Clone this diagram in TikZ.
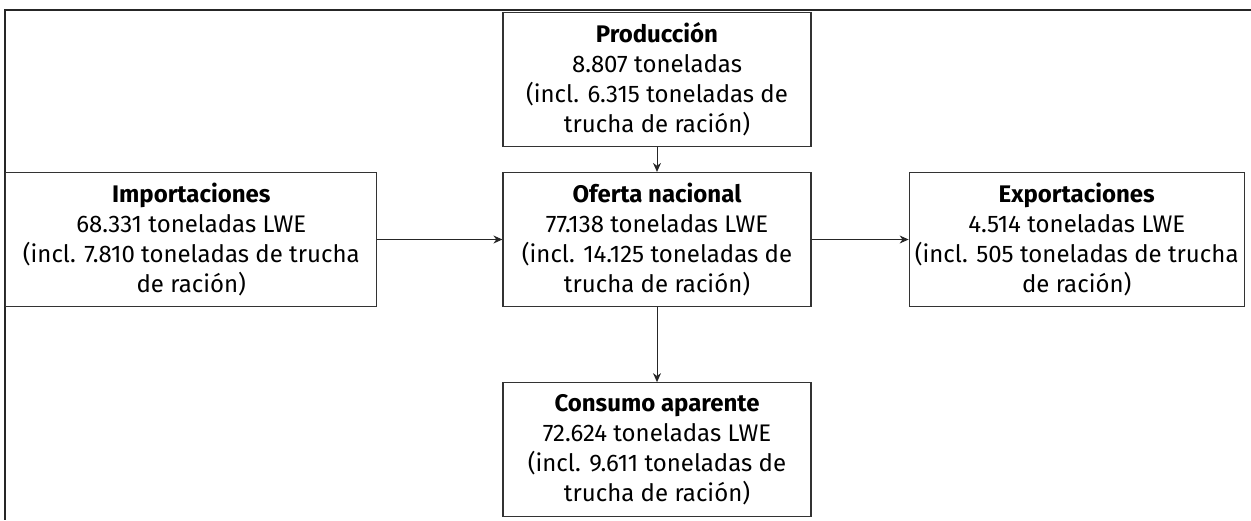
\documentclass[tikz,border=0pt]{standalone}
\usepackage{fontspec}
\setmainfont{Fira Sans}
\usetikzlibrary{positioning,arrows.meta}

\tikzstyle{flow} = [rectangle, draw=black!80, line width=0.6pt, minimum width=154pt, minimum height=67pt, align=center, font=\fontsize{12}{15}\selectfont, inner sep=2pt]
\tikzstyle{arrow} = [line width=0.5pt, draw=black!85, -{Stealth[length=4.5pt,width=4pt]}]

\begin{document}
\begin{tikzpicture}
\useasboundingbox (0,0) rectangle (625.5pt,-260pt);
% frame (only top and left edge are shown)
\draw [line width=1pt, black!85] (625.5pt,-5pt) -- (2.5pt,-5pt) -- (2.5pt,-260pt);

\node (ofe) [flow] at (328.5pt,-119.75pt) {\textbf{Oferta nacional}\\77.138 toneladas LWE\\(incl. 14.125 toneladas de\\trucha de ración)};
\node (prod) [flow, above=12.5pt of ofe] {\textbf{Producción}\\8.807 toneladas\\(incl. 6.315 toneladas de\\trucha de ración)};
\node (imp) [flow, minimum width=185.5pt, left=62.5pt of ofe] {\textbf{Importaciones}\\68.331 toneladas LWE\\(incl. 7.810 toneladas de trucha\\de ración)};
\node (exp) [flow, minimum width=167.5pt, right=48.5pt of ofe] {\textbf{Exportaciones}\\4.514 toneladas LWE\\(incl. 505 toneladas de trucha\\de ración)};
\node (cons) [flow, below=37.5pt of ofe] {\textbf{Consumo aparente}\\72.624 toneladas LWE\\(incl. 9.611 toneladas de\\trucha de ración)};

\draw [arrow] (prod) -- (ofe);
\draw [arrow] (imp) -- (ofe);
\draw [arrow] (ofe) -- (exp);
\draw [arrow] (ofe) -- (cons);

\end{tikzpicture}
\end{document}
